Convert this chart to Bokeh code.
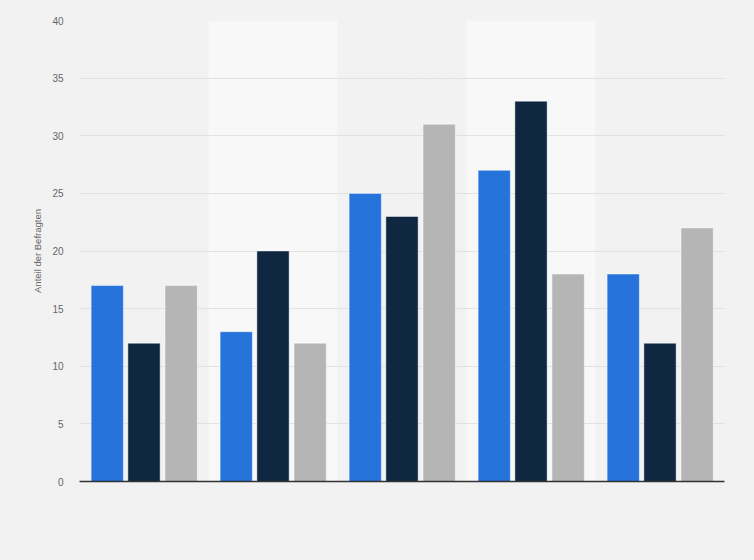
from bokeh.plotting import figure
from bokeh.models import Range1d, FixedTicker, ColumnDataSource
from bokeh.embed import file_html
from bokeh.resources import INLINE

categories = ["1", "2", "3", "4", "5"]
series_a = [17, 13, 25, 27, 18]
series_b = [12, 20, 23, 33, 12]
series_c = [17, 12, 31, 18, 22]
y_ticks = [0, 5, 10, 15, 20, 25, 30, 35, 40]
y_label = "Anteil der Befragten"

colors = ["#2673db", "#0f2740", "#b5b5b5"]
offsets = [-0.285, 0.0, 0.288]
bar_w = 0.25

n = len(categories)
idx = list(range(n))

p = figure(width=738, height=544, output_backend="svg", toolbar_location=None,
           x_range=Range1d(-0.5, n - 0.5), y_range=Range1d(0, 40),
           min_border_left=79, min_border_right=14, min_border_top=20, min_border_bottom=63)

p.background_fill_color = "#f2f2f2"
p.border_fill_color = "#f2f2f2"
p.outline_line_color = None

for vals, col, off in zip([series_a, series_b, series_c], colors, offsets):
    src = ColumnDataSource(dict(x=[i + off for i in idx], top=vals))
    p.vbar(x="x", top="top", width=bar_w, source=src, fill_color=col,
           line_color="white", line_alpha=0.45, line_width=1)

# alternating category bands
p.xgrid.ticker = FixedTicker(ticks=[i - 0.5 for i in range(n + 1)])
p.xgrid.grid_line_color = None
p.xgrid.band_fill_color = "#f8f8f8"
p.xgrid.band_fill_alpha = 1.0

p.ygrid.ticker = FixedTicker(ticks=y_ticks)
p.ygrid.grid_line_color = "#cfcfcf"
p.ygrid.grid_line_dash = "1 1"
p.ygrid.grid_line_width = 1

p.yaxis.ticker = FixedTicker(ticks=y_ticks)
p.yaxis.axis_line_color = None
p.yaxis.major_tick_line_color = None
p.yaxis.major_tick_out = 0
p.yaxis.major_tick_in = 0
p.yaxis.minor_tick_line_color = None
p.yaxis.major_label_text_font = "Liberation Sans"
p.yaxis.major_label_text_font_size = "10px"
p.yaxis.major_label_text_color = "#666666"
p.yaxis.major_label_standoff = 16
p.yaxis.axis_label = y_label
p.yaxis.axis_label_text_font = "Liberation Sans"
p.yaxis.axis_label_text_font_size = "9.5px"
p.yaxis.axis_label_text_font_style = "normal"
p.yaxis.axis_label_text_color = "#666666"
p.yaxis.axis_label_standoff = 6

p.xaxis.ticker = FixedTicker(ticks=[])
p.xaxis.axis_line_color = "#333333"
p.xaxis.axis_line_width = 1.5
p.xaxis.major_tick_line_color = None
p.xaxis.minor_tick_line_color = None
p.xaxis.major_label_text_color = None

html = file_html(p, INLINE)
html = html.replace("<head>", "<head><style>body{background:#f2f2f2;}</style>", 1)
open("out.html", "w").write(html)
